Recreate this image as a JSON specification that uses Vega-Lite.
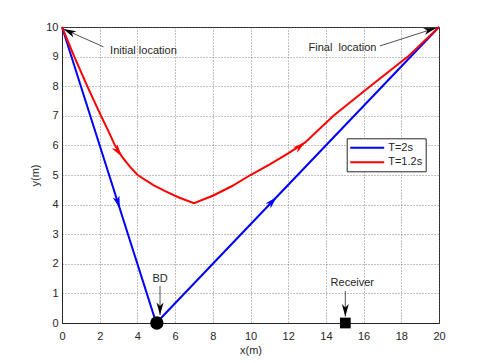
{
  "$schema": "https://vega.github.io/schema/vega-lite/v6.json",
  "width": 377,
  "height": 296,
  "autosize": {"type": "none"},
  "padding": {"left": 62, "top": 27, "right": 46, "bottom": 40},
  "background": "white",
  "config": {
    "font": "Liberation Sans",
    "view": {"stroke": "#262626", "strokeWidth": 1},
    "axis": {
      "labelFont": "Liberation Sans",
      "labelFontSize": 11,
      "labelColor": "#262626",
      "labelOverlap": false,
      "labelFlush": false,
      "titleFont": "Liberation Sans",
      "titleFontSize": 11,
      "titleFontWeight": "normal",
      "titleColor": "#262626",
      "domainColor": "#262626",
      "ticks": false,
      "grid": true,
      "gridColor": "#666666",
      "gridDash": [1, 2],
      "gridWidth": 1,
      "gridOpacity": 0.8
    },
    "legend": {
      "labelFont": "Liberation Sans",
      "labelFontSize": 11,
      "labelColor": "#262626"
    }
  },
  "datasets": {
    "traj": [
      {"series": "T=2s", "x": 0, "y": 10},
      {"series": "T=2s", "x": 5, "y": 0},
      {"series": "T=2s", "x": 20, "y": 10},
      {"series": "T=1.2s", "x": 0, "y": 10},
      {"series": "T=1.2s", "x": 0.65, "y": 9},
      {"series": "T=1.2s", "x": 1.34, "y": 8},
      {"series": "T=1.2s", "x": 2.07, "y": 7},
      {"series": "T=1.2s", "x": 2.45, "y": 6.5},
      {"series": "T=1.2s", "x": 2.81, "y": 6},
      {"series": "T=1.2s", "x": 3.2, "y": 5.6},
      {"series": "T=1.2s", "x": 3.6, "y": 5.28},
      {"series": "T=1.2s", "x": 4.01, "y": 5},
      {"series": "T=1.2s", "x": 4.85, "y": 4.66},
      {"series": "T=1.2s", "x": 5.5, "y": 4.45},
      {"series": "T=1.2s", "x": 6.2, "y": 4.24},
      {"series": "T=1.2s", "x": 7, "y": 4.05},
      {"series": "T=1.2s", "x": 8, "y": 4.3},
      {"series": "T=1.2s", "x": 9, "y": 4.62},
      {"series": "T=1.2s", "x": 10, "y": 5},
      {"series": "T=1.2s", "x": 11, "y": 5.35},
      {"series": "T=1.2s", "x": 12, "y": 5.73},
      {"series": "T=1.2s", "x": 12.9, "y": 6.1},
      {"series": "T=1.2s", "x": 14.4, "y": 7},
      {"series": "T=1.2s", "x": 16.35, "y": 8},
      {"series": "T=1.2s", "x": 18.35, "y": 9},
      {"series": "T=1.2s", "x": 20, "y": 10}
    ],
    "heads": [
      {"series": "T=2s", "x": 3.07, "y": 3.87, "dir": 162.3},
      {"series": "T=2s", "x": 11.39, "y": 4.26, "dir": 43.7},
      {"series": "T=1.2s", "x": 3.17, "y": 5.62, "dir": 145},
      {"series": "T=1.2s", "x": 12.9, "y": 6.1, "dir": 53.3}
    ],
    "pointers": [
      {"name": "Initial", "x": 2.2, "y": 9.33, "x2": 0.08, "y2": 9.93, "dir": 294.9},
      {"name": "Final", "x": 16.87, "y": 9.36, "x2": 19.85, "y2": 9.97, "dir": 73.4},
      {"name": "BD", "x": 5.2, "y": 1.25, "x2": 5.2, "y2": 0.27, "dir": 180},
      {"name": "Receiver", "x": 15.03, "y": 1.08, "x2": 15.03, "y2": 0.22, "dir": 180}
    ],
    "sites": [
      {"name": "BD", "x": 5.03, "y": 0},
      {"name": "Receiver", "x": 15.03, "y": 0}
    ],
    "labels": [
      {"text": "Initial location", "x": 4.32, "y": 9.19},
      {"text": "Final\u00a0 location", "x": 14.88, "y": 9.28},
      {"text": "BD", "x": 5.2, "y": 1.47},
      {"text": "Receiver", "x": 15.4, "y": 1.35}
    ]
  },
  "layer": [
    {
      "data": {"name": "traj"},
      "mark": {"type": "line", "strokeWidth": 2},
      "encoding": {
        "x": {
          "field": "x", "type": "quantitative",
          "scale": {"domain": [0, 20], "nice": false},
          "axis": {"values": [0, 2, 4, 6, 8, 10, 12, 14, 16, 18, 20], "tickCount": 30, "format": "d", "title": "x(m)", "labelPadding": 7, "titlePadding": 3, "labelOverlap": false}
        },
        "y": {
          "field": "y", "type": "quantitative",
          "scale": {"domain": [0, 10], "nice": false},
          "axis": {"values": [0, 1, 2, 3, 4, 5, 6, 7, 8, 9, 10], "tickCount": 30, "format": "d", "title": "y(m)", "labelPadding": 4, "titlePadding": 5, "labelOverlap": false}
        },
        "color": {
          "field": "series", "type": "nominal",
          "scale": {"domain": ["T=2s", "T=1.2s"], "range": ["#0000ff", "#ff0000"]},
          "legend": {
            "title": null,
            "orient": "none",
            "legendX": 284.7,
            "legendY": 111.3,
            "symbolType": "M-1.2,0L5.6,0",
            "symbolSize": 100,
            "symbolStrokeWidth": 2,
            "labelOffset": 26,
            "rowPadding": 3.5,
            "padding": 3.5,
            "strokeColor": "#262626",
            "fillColor": "white"
          }
        }
      }
    },
    {
      "data": {"name": "heads"},
      "mark": {"type": "point", "shape": "M0,0L0.5,1.8L0,1.3L-0.5,1.8Z", "filled": true, "opacity": 1, "size": 196, "strokeWidth": 0},
      "encoding": {
        "x": {"field": "x", "type": "quantitative"},
        "y": {"field": "y", "type": "quantitative"},
        "color": {"field": "series", "type": "nominal", "legend": null},
        "angle": {"field": "dir", "type": "quantitative", "scale": {"domain": [0, 360], "range": [0, 360]}}
      }
    },
    {
      "data": {"name": "pointers"},
      "mark": {"type": "rule", "color": "#262626", "strokeWidth": 0.8},
      "encoding": {
        "x": {"field": "x", "type": "quantitative"},
        "y": {"field": "y", "type": "quantitative"},
        "x2": {"field": "x2"},
        "y2": {"field": "y2"}
      }
    },
    {
      "data": {"name": "pointers"},
      "mark": {"type": "point", "shape": "M0,0L0.5,1.8L0,1.3L-0.5,1.8Z", "filled": true, "opacity": 1, "size": 196, "strokeWidth": 0, "color": "#000000"},
      "encoding": {
        "x": {"field": "x2", "type": "quantitative"},
        "y": {"field": "y2", "type": "quantitative"},
        "angle": {"field": "dir", "type": "quantitative", "scale": {"domain": [0, 360], "range": [0, 360]}}
      }
    },
    {
      "data": {"name": "sites"},
      "transform": [{"filter": "datum.name === 'BD'"}],
      "mark": {"type": "point", "shape": "circle", "filled": true, "opacity": 1, "size": 180, "color": "#000000"},
      "encoding": {
        "x": {"field": "x", "type": "quantitative"},
        "y": {"field": "y", "type": "quantitative"}
      }
    },
    {
      "data": {"name": "sites"},
      "transform": [{"filter": "datum.name === 'Receiver'"}],
      "mark": {"type": "point", "shape": "square", "filled": true, "opacity": 1, "size": 115, "color": "#000000"},
      "encoding": {
        "x": {"field": "x", "type": "quantitative"},
        "y": {"field": "y", "type": "quantitative"}
      }
    },
    {
      "data": {"name": "labels"},
      "mark": {"type": "text", "font": "Liberation Sans", "fontSize": 11, "color": "#262626", "align": "center", "baseline": "middle"},
      "encoding": {
        "x": {"field": "x", "type": "quantitative"},
        "y": {"field": "y", "type": "quantitative"},
        "text": {"field": "text"}
      }
    }
  ]
}
